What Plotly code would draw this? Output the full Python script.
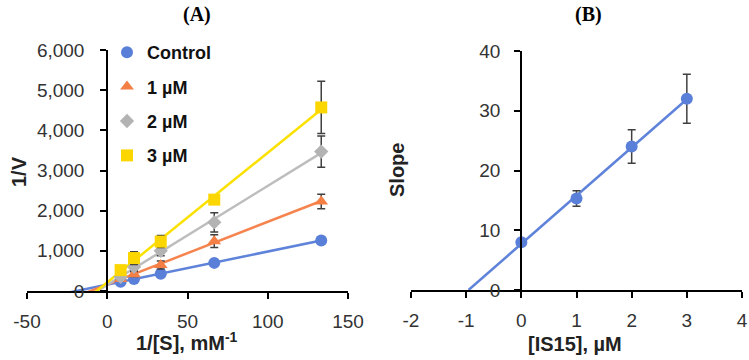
import numpy as np
import plotly.graph_objects as go

# ---------------- data ----------------
inv_s = [8.33, 16.67, 33.33, 66.67, 133.33]          # 1/[S], mM^-1
series_names = ["Control", "1 µM", "2 µM", "3 µM"]
inv_v_control = [230, 300, 430, 700, 1260]
inv_v_1uM = [300, 420, 650, 1240, 2230]
inv_v_2uM = [350, 600, 1000, 1710, 3470]
inv_v_3uM = [520, 820, 1230, 2275, 4570]
err_control = [20, 20, 30, 40, 50]
err_1uM = [40, 60, 100, 160, 180]
err_2uM = [60, 90, 120, 240, 390]
err_3uM = [80, 160, 150, 100, 650]

is15 = [0, 1, 2, 3]                                  # [IS15], µM
slope_vals = [8.0, 15.3, 24.0, 32.0]
slope_err = [0.2, 1.3, 2.8, 4.1]

# tick labels
xA_ticks = [-50, 0, 50, 100, 150]
xA_labels = ["-50", "0", "50", "100", "150"]
xB_ticks = [-2, -1, 0, 1, 2, 3, 4]
xB_labels = ["-2", "-1", "0", "1", "2", "3", "4"]

# ---------------- styles ----------------
colors = ["#5a7fd8", "#f47f45", "#b3b3b3", "#fcd600"]
line_colors = ["#5f83da", "#f5844f", "#bdbdbd", "#fbe100"]
symbols = ["circle", "triangle-up", "diamond", "square"]
msizes = [12, 12, 11, 12]
ERR_COLOR = "#404040"
FONT = "Liberation Sans, Arial, sans-serif"
SERIF = "Liberation Serif, Times New Roman, serif"

values = [inv_v_control, inv_v_1uM, inv_v_2uM, inv_v_3uM]
errors = [err_control, err_1uM, err_2uM, err_3uM]

fig = go.Figure()

# trend lines (panel A)
fit_start = -30
for i, ys in enumerate(values):
    m, b = np.polyfit(inv_s, ys, 1)
    xs = [fit_start, inv_s[-1]]
    fig.add_trace(go.Scatter(
        x=xs, y=[m * x + b for x in xs], mode="lines",
        line=dict(color=line_colors[i], width=2.5),
        showlegend=False, hoverinfo="skip", xaxis="x", yaxis="y"))

# markers (panel A)
for i, ys in enumerate(values):
    fig.add_trace(go.Scatter(
        x=inv_s, y=ys, mode="markers", name=series_names[i],
        legendgroup=series_names[i],
        marker=dict(color=colors[i], symbol=symbols[i], size=msizes[i]),
        error_y=dict(type="data", array=errors[i], color=ERR_COLOR,
                     thickness=1.5, width=4),
        xaxis="x", yaxis="y"))

# panel B
mB, bB = np.polyfit(is15, slope_vals, 1)
xB = [-bB / mB, is15[-1]]
fig.add_trace(go.Scatter(
    x=xB, y=[mB * x + bB for x in xB], mode="lines",
    line=dict(color=line_colors[0], width=2.5),
    showlegend=False, hoverinfo="skip", xaxis="x2", yaxis="y2"))
fig.add_trace(go.Scatter(
    x=is15, y=slope_vals, mode="markers", showlegend=False,
    marker=dict(color=colors[0], symbol="circle", size=12),
    error_y=dict(type="data", array=slope_err, color=ERR_COLOR,
                 thickness=1.5, width=4),
    xaxis="x2", yaxis="y2"))

W, H = 749, 360
def px(x): return x / W
def py(y): return 1 - y / H

axis_common = dict(showgrid=False, zeroline=False, showline=True,
                   linecolor="black", linewidth=1.5, ticks="outside",
                   ticklen=6, tickwidth=1.5, tickcolor="black",
                   automargin=False,
                   tickfont=dict(family=FONT, size=19, color="#333333"))

def ann(text, x, y, size=20, family=FONT, angle=0, color="#222222"):
    return dict(text=text, x=px(x), y=py(y), xref="paper", yref="paper",
                xanchor="center", yanchor="middle", textangle=angle,
                showarrow=False, font=dict(family=family, size=size, color=color))

fig.update_layout(
    width=W, height=H,
    margin=dict(l=0, r=0, t=0, b=0, pad=0, autoexpand=False),
    paper_bgcolor="white", plot_bgcolor="white",
    xaxis=dict(domain=[px(27), px(348)], range=[-50, 150],
               tickmode="array", tickvals=xA_ticks, ticktext=xA_labels,
               anchor="y", ticklabelstandoff=6, **axis_common),
    yaxis=dict(domain=[py(291), py(50)], range=[0, 6000], dtick=1000,
               tickformat=",", anchor="free", position=px(107),
               ticklabelstandoff=12, **axis_common),
    xaxis2=dict(domain=[px(411), px(742)], range=[-2, 4],
                tickmode="array", tickvals=xB_ticks, ticktext=xB_labels,
                anchor="y2", ticklabelstandoff=6, **axis_common),
    yaxis2=dict(domain=[py(290), py(51)], range=[0, 40], dtick=10,
                anchor="free", position=px(521), ticklabelstandoff=10,
                **axis_common),
    legend=dict(x=px(107), y=py(34), xanchor="left", yanchor="top",
                bgcolor="rgba(0,0,0,0)", tracegroupgap=8,
                font=dict(family=FONT, size=18, color="#111111", weight="bold")),
    showlegend=True,
    annotations=[
        ann("<b>(A)</b>", 197, 15, family=SERIF, color="black"),
        ann("<b>(B)</b>", 588, 15, family=SERIF, color="black"),
        ann("<b>1/V</b>", 19, 172, angle=-90),
        ann("<b>Slope</b>", 397, 170, angle=-90),
        ann("<b>1/[S], mM<sup>-1</sup></b>", 187, 341),
        ann("<b>[IS15], µM</b>", 575, 344),
    ],
)

fig.write_html("out.html",
               config={"displayModeBar": False},
               post_script="document.body.style.margin='0';document.body.style.overflow='hidden';")
